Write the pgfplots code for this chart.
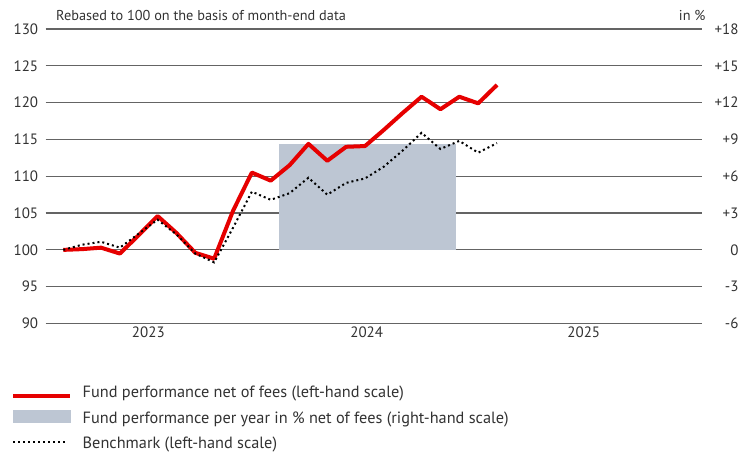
\documentclass[border=0pt]{standalone}
\usepackage{pgfplots}
\pgfplotsset{compat=1.18}
\usepackage{fontspec}
\setmainfont{PT Sans}
\definecolor{fundred}{RGB}{230,0,0}
\definecolor{barblue}{RGB}{189,198,211}
\definecolor{gridgray}{RGB}{100,100,100}
\definecolor{txt}{RGB}{50,50,50}
\pgfplotsset{
  redleg/.style={legend image code/.code={\draw[fundred, line width=4pt] (0pt,1.7pt) -- (57pt,1.7pt);}},
  barleg/.style={legend image code/.code={\fill[barblue] (0pt,1.55pt) rectangle (57pt,13.25pt);}},
  benchleg/.style={legend image code/.code={\draw[black, line width=2pt, dash pattern=on 2pt off 3pt] (0pt,6.6pt) -- (53pt,6.6pt);}},
}
\begin{document}
\begin{tikzpicture}[x=1pt,y=1pt]
\useasboundingbox (0,0) rectangle (748,454);
% right-hand scale axis with grid and bar
\begin{axis}[
  at={(45.7pt,130.5pt)}, anchor=south west,
  width=656.3pt, height=294.5pt, scale only axis,
  xmin=-0.933, xmax=33.87, ymin=-6, ymax=18,
  xtick=\empty,
  ytick={-6,-3,0,3,6,9,12,15,18},
  yticklabels={-6,-3,0,+3,+6,+9,+12,+15,+18},
  yticklabel pos=right,
  ymajorgrids, grid style={color=gridgray, line width=1.2pt},
  axis line style={draw=none}, tick style={draw=none},
  /pgf/number format/assume math mode=true,
  yticklabel style={font=\fontsize{15}{18}\selectfont, text=txt, anchor=east, xshift=40pt},
]
\addplot[ybar, bar width=9.37, fill=barblue, draw=none] coordinates {(16.13,8.6)};
\end{axis}
% left-hand scale axis with lines
\begin{axis}[
  at={(45.7pt,130.5pt)}, anchor=south west,
  width=656.3pt, height=294.5pt, scale only axis,
  xmin=-0.933, xmax=33.87, ymin=90, ymax=130,
  xtick={4.51,16.09,27.6}, xticklabels={2023,2024,2025},
  ytick={90,95,...,130},
  axis line style={draw=none}, tick style={draw=none},
  /pgf/number format/assume math mode=true,
  ticklabel style={font=\fontsize{15}{18}\selectfont, text=txt},
  yticklabel style={xshift=-4pt},
  legend style={draw=none, fill=none, inner sep=0pt, outer sep=0pt,
    at={(-0.0524,-0.1986)}, anchor=north west,
    cells={anchor=base west, font=\fontsize{16.3}{19}\selectfont, text=txt,
           text height=14pt, text depth=3pt, inner sep=0pt},
    row sep=5.8pt, column sep=8.4pt},
]
\addplot[color=fundred, line width=4pt, line join=round, redleg]
 coordinates {
 (0,100.0) (1,100.1) (2,100.3) (3,99.5) (4,102.0) (5,104.6) (6,102.3) (7,99.6)
 (8,98.8) (9,105.3) (10,110.5) (11,109.4) (12,111.5) (13,114.4) (14,112.1) (15,114.0)
 (16,114.1) (17,116.3) (18,118.6) (19,120.8) (20,119.1) (21,120.8) (22,119.9) (23,122.4)};
\addlegendentry{Fund performance net of fees (left-hand scale)}
\addlegendimage{barleg}
\addlegendentry{Fund performance per year in \% net of fees (right-hand scale)}
\addplot[color=black, line width=2pt, dash pattern=on 2pt off 3pt, benchleg]
 coordinates {
 (0,100.0) (1,100.7) (2,101.1) (3,100.3) (4,102.2) (5,104.1) (6,102.1) (7,99.5)
 (8,98.3) (9,103.0) (10,107.9) (11,106.8) (12,107.7) (13,109.8) (14,107.5) (15,109.1)
 (16,109.7) (17,111.3) (18,113.5) (19,115.9) (20,113.7) (21,114.8) (22,113.2) (23,114.5)};
\addlegendentry{Benchmark (left-hand scale)}
\end{axis}
\node[anchor=base west, inner sep=0pt, text=txt, font=\fontsize{14.3}{17}\selectfont] at (56,433) {Rebased to 100 on the basis of month-end data};
\node[anchor=base east, inner sep=0pt, text=txt, font=\fontsize{14.3}{17}\selectfont] at (705.7,433) {in \%};
\end{tikzpicture}
\end{document}
